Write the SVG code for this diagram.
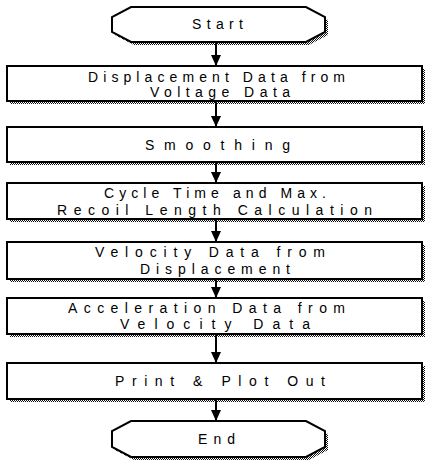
<svg xmlns="http://www.w3.org/2000/svg" width="425" height="461" viewBox="0 0 425 461">
<style>
.box{fill:#fff;stroke:#000;stroke-width:2}
.sh{fill:url(#dots);stroke:none}
.t{font-family:"Liberation Sans","DejaVu Sans",sans-serif;font-size:14px;fill:#000;text-anchor:middle}
.c{stroke:#000;stroke-width:2;fill:none;marker-end:url(#ah)}
</style>
<defs>
<pattern id="dots" width="2" height="2" patternUnits="userSpaceOnUse">
<rect x="0" y="0" width="1" height="1" fill="#111"/>
<rect x="1" y="1" width="1" height="1" fill="#111"/>
</pattern>
<marker id="ah" markerWidth="11" markerHeight="10" refX="11" refY="5" orient="auto" markerUnits="userSpaceOnUse" viewBox="0 0 11 10">
<path d="M0,0 L11,5 L0,10 Z" fill="#000"/>
</marker>
</defs>
<g id="connectors">
<line class="c" x1="216" y1="43" x2="216" y2="66"/>
<line class="c" x1="216" y1="102" x2="216" y2="127"/>
<line class="c" x1="216" y1="163" x2="216" y2="183"/>
<line class="c" x1="216" y1="220" x2="216" y2="242"/>
<line class="c" x1="216" y1="280" x2="216" y2="298"/>
<line class="c" x1="216" y1="335" x2="216" y2="363"/>
<line class="c" x1="216" y1="400" x2="216" y2="421"/>
</g>
<g id="start">
<polygon class="sh" points="134,10 309,10 328,20 328,35 309,45 134,45 115,35 115,20"/>
<polygon class="box" points="131,7 306,7 325,17 325,32 306,42 131,42 112,32 112,17"/>
<text class="t" x="217.5" y="29" textLength="51" lengthAdjust="spacing">Start</text>
</g>
<g id="n1">
<rect class="sh" x="10" y="69" width="415" height="35"/>
<rect class="box" x="7" y="66" width="415" height="35"/>
<text class="t" x="216.5" y="82" textLength="257" lengthAdjust="spacing">Displacement Data from</text>
<text class="t" x="220" y="97" textLength="140" lengthAdjust="spacing">Voltage Data</text>
</g>
<g id="n2">
<rect class="sh" x="10" y="130" width="415" height="35"/>
<rect class="box" x="7" y="127" width="415" height="35"/>
<text class="t" x="217.5" y="150" textLength="145" lengthAdjust="spacing">Smoothing</text>
</g>
<g id="n3">
<rect class="sh" x="10" y="186" width="415" height="36"/>
<rect class="box" x="7" y="183" width="415" height="36"/>
<text class="t" x="215" y="198" textLength="222" lengthAdjust="spacing">Cycle Time and Max.</text>
<text class="t" x="214.5" y="215" textLength="315" lengthAdjust="spacing">Recoil Length Calculation</text>
</g>
<g id="n4">
<rect class="sh" x="10" y="245" width="415" height="37"/>
<rect class="box" x="7" y="242" width="415" height="37"/>
<text class="t" x="210" y="257" textLength="230" lengthAdjust="spacing">Velocity Data from</text>
<text class="t" x="215" y="274" textLength="150" lengthAdjust="spacing">Displacement</text>
</g>
<g id="n5">
<rect class="sh" x="10" y="301" width="415" height="36"/>
<rect class="box" x="7" y="298" width="415" height="36"/>
<text class="t" x="206.5" y="313" textLength="277" lengthAdjust="spacing">Acceleration Data from</text>
<text class="t" x="215" y="329" textLength="190" lengthAdjust="spacing">Velocity Data</text>
</g>
<g id="n6">
<rect class="sh" x="10" y="366" width="415" height="36"/>
<rect class="box" x="7" y="363" width="415" height="36"/>
<text class="t" x="220" y="386" textLength="210" lengthAdjust="spacing">Print &amp; Plot Out</text>
</g>
<g id="end">
<polygon class="sh" points="134,424 309,424 328,434 328,450 309,460 134,460 115,450 115,434"/>
<polygon class="box" points="131,421 306,421 325,431 325,447 306,457 131,457 112,447 112,431"/>
<text class="t" x="216.5" y="444" textLength="37" lengthAdjust="spacing">End</text>
</g>
</svg>
